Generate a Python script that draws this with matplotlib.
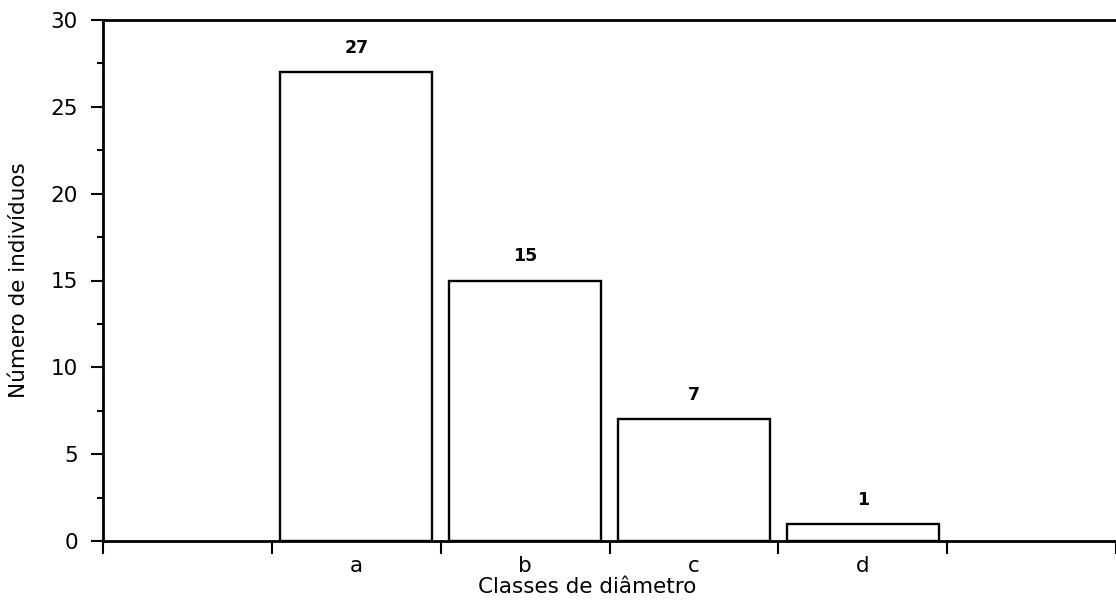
import matplotlib
matplotlib.use("Agg")
import matplotlib.pyplot as plt
import numpy as np

# data
classes = ["a", "b", "c", "d"]
counts  = [27, 15, 7, 1]

plt.rcParams.update({
    "font.family": "DejaVu Sans",
    "font.size": 15.5,
})

fig = plt.figure(figsize=(11.16, 6.07), dpi=100)
ax = fig.add_axes([103 / 1116, 1 - 541 / 607, 1 - 103 / 1116, (541 - 20) / 607])

x = np.arange(len(classes))
ax.bar(x, counts, width=0.9, facecolor="white", edgecolor="black", linewidth=1.7)

# value labels above bars
for xi, v in zip(x, counts):
    ax.text(xi, v + 1.1, str(v), ha="center", va="baseline",
            fontsize=12.5, fontweight="bold")

ax.set_xlim(-1.5, 4.5)
ax.set_ylim(0, 30)

# y axis: majors every 5, minors in between, ticks outward
ax.set_yticks(np.arange(0, 31, 5))
ax.set_yticks(np.arange(2.5, 30, 5), minor=True)
ax.tick_params(axis="y", which="major", direction="out", length=9, width=1.5, pad=9)
ax.tick_params(axis="y", which="minor", direction="out", length=4, width=1.5)

# x axis: ticks on class boundaries, labels at bar centres
ax.set_xticks(np.arange(-1.5, 4.6, 1.0))
ax.set_xticklabels([])
ax.set_xticks(x, minor=True)
ax.set_xticklabels(classes, minor=True)
ax.tick_params(axis="x", which="major", direction="out", length=9, width=1.5)
ax.tick_params(axis="x", which="minor", length=0, pad=11)

for side in ["left", "bottom", "top"]:
    ax.spines[side].set_linewidth(2)
ax.spines["right"].set_visible(False)

ax.set_xlabel("Classes de diâmetro")
ax.set_ylabel("Número de indivíduos")
ax.xaxis.set_label_coords((587 - 103) / 1013, -0.07)
ax.yaxis.set_label_coords(-0.073, 0.5)

fig.savefig("out.png", dpi=100)
